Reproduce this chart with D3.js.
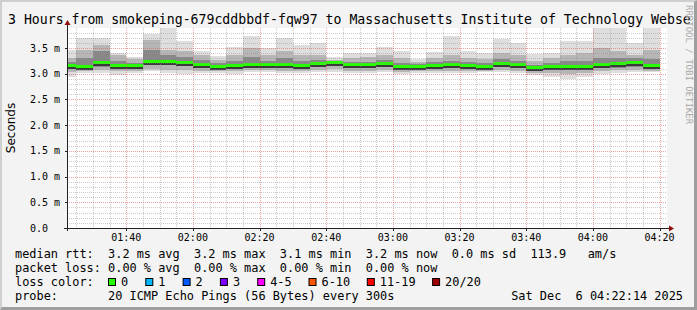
<!DOCTYPE html>
<html>
<head>
<meta charset="utf-8" />
<title>smokeping 3 hours</title>
<script src="https://d3js.org/d3.v7.min.js"></script>
<style>
  body { margin: 0; background: #f3f3f3; }
  svg text { font-family: "DejaVu Sans Mono", monospace; fill: #000; }
</style>
</head>
<body>
<svg id="viz"></svg>
<script>
// ---- data (rtt in ms, each step ends at the given time, 300s steps) ----
var stepEnd = ["01:25","01:30","01:35","01:40","01:45","01:50","01:55","02:00","02:05","02:10","02:15","02:20",
               "02:25","02:30","02:35","02:40","02:45","02:50","02:55","03:00","03:05","03:10","03:15","03:20",
               "03:25","03:30","03:35","03:40","03:45","03:50","03:55","04:00","04:05","04:10","04:15","04:20"];
var rttMedian   = [3.15,3.14,3.20,3.15,3.15,3.23,3.22,3.21,3.17,3.13,3.15,3.17,3.17,3.16,3.15,3.19,3.20,3.16,
                   3.16,3.19,3.13,3.13,3.15,3.16,3.15,3.14,3.19,3.16,3.11,3.13,3.13,3.14,3.17,3.18,3.20,3.15];
var rttMax      = [3.47,3.69,3.69,3.40,3.32,3.77,3.95,3.64,3.45,3.34,3.51,3.73,3.50,3.69,3.56,3.59,3.32,3.40,
                   3.40,3.51,3.44,3.29,3.43,3.73,3.45,3.40,3.68,3.60,3.38,3.41,3.64,3.64,3.95,3.92,3.59,3.95];
var rttHigh     = [3.31,3.47,3.56,3.37,3.29,3.66,3.47,3.44,3.37,3.27,3.37,3.50,3.37,3.45,3.37,3.37,3.27,3.31,
                   3.32,3.37,3.31,3.22,3.31,3.37,3.31,3.29,3.40,3.37,3.25,3.31,3.37,3.40,3.50,3.44,3.37,3.47];
var rttCoreHigh = [3.22,3.31,3.44,3.25,3.21,3.47,3.37,3.33,3.27,3.20,3.25,3.33,3.25,3.30,3.24,3.27,3.24,3.23,
                   3.23,3.26,3.21,3.18,3.22,3.25,3.22,3.20,3.29,3.25,3.17,3.21,3.24,3.25,3.30,3.30,3.30,3.28];
var rttCoreLow  = [3.10,3.09,3.14,3.10,3.10,3.17,3.16,3.15,3.12,3.09,3.10,3.12,3.12,3.11,3.10,3.14,3.15,3.11,
                   3.11,3.13,3.08,3.09,3.10,3.11,3.10,3.09,3.13,3.11,3.06,3.08,3.08,3.09,3.12,3.12,3.14,3.10];
var rttLow      = [3.03,3.05,3.07,3.05,3.06,3.10,3.08,3.07,3.06,3.05,3.05,3.07,3.07,3.06,3.06,3.08,3.09,3.06,
                   3.06,3.07,3.03,3.05,3.05,3.06,3.06,3.06,3.07,3.06,3.02,3.01,2.99,3.02,3.06,3.07,3.08,3.06];
var rttMin      = [2.93,3.01,3.01,2.98,3.02,3.05,3.02,3.00,3.02,3.02,3.00,3.03,3.03,3.02,3.02,3.04,3.04,3.01,
                   3.02,3.03,2.99,3.02,3.01,3.02,3.02,3.03,3.03,3.02,2.98,2.94,2.89,2.94,3.00,3.02,3.03,3.03];
var lossCount   = [0,0,0,0,0,0,0,0,0,0,0,0,0,0,0,0,0,0,0,0,0,0,0,0,0,0,0,0,0,0,0,0,0,0,0,0];

var xTickLabels = ["01:40","02:00","02:20","02:40","03:00","03:20","03:40","04:00","04:20"];
var yTickValues = [0, 0.5, 1.0, 1.5, 2.0, 2.5, 3.0, 3.5];
var yTickLabels = ["0.0","0.5 m","1.0 m","1.5 m","2.0 m","2.5 m","3.0 m","3.5 m"];

var lossLabels = ["0","1","2","3","4-5","6-10","11-19","20/20"];
var lossColors = ["#26ff00","#00b8ff","#0059ff","#7e00ff","#ff00ff","#ff5500","#ff0000","#a10000"];
var lossUpper  = [0,1,2,3,5,10,19,20];

var titleText = "3 Hours from smokeping-679cddbbdf-fqw97 to Massachusetts Institute of Technology Webse";
var statRtt   = "median rtt:  3.2 ms avg  3.2 ms max  3.1 ms min  3.2 ms now  0.0 ms sd  113.9   am/s";
var statLoss  = "packet loss: 0.00 % avg  0.00 % max  0.00 % min  0.00 % now";
var probeText = "probe:       20 ICMP Echo Pings (56 Bytes) every 300s";
var dateText  = "Sat Dec  6 04:22:14 2025";

// ---- layout ----
var W = 697, H = 310;
var pLeft = 67, pRight = 667, pTop = 28, pBottom = 228;
var parse = d3.timeParse("%Y-%m-%d %H:%M:%S");
var day = "2025-12-06 ";
var t0 = parse(day + "01:22:14"), t1 = parse(day + "04:22:14");

var x = d3.scaleTime().domain([t0, t1]).range([pLeft, pRight]);
var y = d3.scaleLinear().domain([0, 3.5 * 200 / 180]).range([pBottom, pTop]);

var svg = d3.select("#viz").attr("width", W).attr("height", H);

// background and shaded frame
svg.append("rect").attr("width", W).attr("height", H).attr("fill", "#f3f3f3");
svg.append("path").attr("d", "M0,0H697L695,2H2V308L0,310Z").attr("fill", "#cfcfcf");
svg.append("path").attr("d", "M697,0V310H0L2,307H694V2Z").attr("fill", "#9e9e9e");

// canvas
svg.append("rect").attr("x", pLeft).attr("y", pTop).attr("width", pRight - pLeft).attr("height", pBottom - pTop)
  .attr("fill", "#fff");
svg.append("clipPath").attr("id", "clip").append("rect")
  .attr("x", pLeft).attr("y", pTop).attr("width", pRight - pLeft).attr("height", pBottom - pTop);

// smoke bars
var steps = stepEnd.map(function(s, i) {
  var end = parse(day + s + ":00");
  var start = d3.timeMinute.offset(end, -5);
  return { i: i, x0: Math.max(x(start), pLeft), x1: x(end) };
});

var plot = svg.append("g").attr("clip-path", "url(#clip)").attr("shape-rendering", "crispEdges");

function band(lo, hi, color) {
  plot.append("g").selectAll("rect").data(steps).enter().append("rect")
    .attr("x", function(d) { return d.x0; })
    .attr("width", function(d) { return d.x1 - d.x0; })
    .attr("y", function(d) { return y(hi[d.i]); })
    .attr("height", function(d) { return y(lo[d.i]) - y(hi[d.i]); })
    .attr("fill", color);
}
band(rttMin, rttMax, "#dedede");
band(rttLow, rttHigh, "#b6b6b6");
band(rttCoreLow, rttCoreHigh, "#888888");

function lossColor(n) {
  for (var k = 0; k < lossUpper.length; k++) if (n <= lossUpper[k]) return lossColors[k];
  return lossColors[lossColors.length - 1];
}

// median: dark line + loss coloured band
plot.append("g").selectAll("rect").data(steps).enter().append("rect")
  .attr("x", function(d) { return d.x0; })
  .attr("width", function(d) { return d.x1 - d.x0; })
  .attr("y", function(d) { return Math.round(y(rttMedian[d.i])) + 1; })
  .attr("height", 1.5)
  .attr("fill", "#3a3a3a");
plot.append("g").selectAll("rect").data(steps).enter().append("rect")
  .attr("x", function(d) { return d.x0; })
  .attr("width", function(d) { return d.x1 - d.x0; })
  .attr("y", function(d) { return Math.round(y(rttMedian[d.i])) - 2; })
  .attr("height", 3)
  .attr("fill", function(d) { return lossColor(lossCount[d.i]); });

// grid (drawn over the smoke, like rrdtool)
var grid = svg.append("g").attr("shape-rendering", "crispEdges");
var minorY = d3.range(1, 39).map(function(k) { return k / 10; }).filter(function(v) { return Math.round(v * 10) % 5 !== 0; });
var majorY = yTickValues.filter(function(v) { return v > 0; });
var minorX = d3.timeMinute.every(5).range(t0, t1).filter(function(t) { return t.getMinutes() % 20 !== 0; });
var majorX = d3.timeMinute.every(20).range(t0, t1);

grid.selectAll(".gy").data(minorY).enter().append("line")
  .attr("x1", pLeft).attr("x2", pRight)
  .attr("y1", function(v) { return Math.round(y(v)) + 0.5; }).attr("y2", function(v) { return Math.round(y(v)) + 0.5; })
  .attr("stroke", "rgba(140,140,140,0.45)").attr("stroke-dasharray", "1,1");
grid.selectAll(".gx").data(minorX).enter().append("line")
  .attr("y1", pTop).attr("y2", pBottom)
  .attr("x1", function(t) { return Math.round(x(t)) + 0.5; }).attr("x2", function(t) { return Math.round(x(t)) + 0.5; })
  .attr("stroke", "rgba(140,140,140,0.45)").attr("stroke-dasharray", "1,1");
grid.selectAll(".my").data(majorY).enter().append("line")
  .attr("x1", pLeft).attr("x2", pRight)
  .attr("y1", function(v) { return Math.round(y(v)) + 0.5; }).attr("y2", function(v) { return Math.round(y(v)) + 0.5; })
  .attr("stroke", "rgba(222,70,70,0.5)").attr("stroke-dasharray", "1,1");
grid.selectAll(".mx").data(majorX).enter().append("line")
  .attr("y1", pTop).attr("y2", pBottom)
  .attr("x1", function(t) { return Math.round(x(t)) + 0.5; }).attr("x2", function(t) { return Math.round(x(t)) + 0.5; })
  .attr("stroke", "rgba(222,70,70,0.5)").attr("stroke-dasharray", "1,1");

// axes
grid.append("line").attr("x1", pLeft - 3).attr("x2", pRight + 2).attr("y1", pBottom + 0.5).attr("y2", pBottom + 0.5)
  .attr("stroke", "#222");
grid.append("line").attr("x1", pLeft + 0.5).attr("x2", pLeft + 0.5).attr("y1", pBottom + 3).attr("y2", pTop - 4)
  .attr("stroke", "#222");
svg.append("path").attr("d", "M" + (pRight + 2) + "," + (pBottom - 2.5) + "L" + (pRight + 7) + "," + (pBottom + 0.5) + "L" + (pRight + 2) + "," + (pBottom + 3.5) + "Z")
  .attr("fill", "#8b1010");
svg.append("path").attr("d", "M" + (pLeft - 2.5) + "," + (pTop - 3) + "L" + (pLeft + 0.5) + "," + (pTop - 8) + "L" + (pLeft + 3.5) + "," + (pTop - 3) + "Z")
  .attr("fill", "#8b1010");
grid.selectAll(".tx").data(majorX).enter().append("line")
  .attr("x1", function(t) { return Math.round(x(t)) + 0.5; }).attr("x2", function(t) { return Math.round(x(t)) + 0.5; })
  .attr("y1", pBottom).attr("y2", pBottom + 3).attr("stroke", "#222");
grid.selectAll(".ty").data(majorY).enter().append("line")
  .attr("x1", pLeft - 2).attr("x2", pLeft)
  .attr("y1", function(v) { return Math.round(y(v)) + 0.5; }).attr("y2", function(v) { return Math.round(y(v)) + 0.5; })
  .attr("stroke", "#222");

// tick labels
svg.append("g").selectAll("text").data(xTickLabels).enter().append("text")
  .attr("x", function(s) { return x(parse(day + s + ":00")); })
  .attr("y", 241)
  .attr("text-anchor", "middle")
  .attr("font-size", "10px")
  .text(function(s) { return s; });
svg.append("g").selectAll("text").data(yTickValues).enter().append("text")
  .attr("x", 30)
  .attr("y", function(v) { return y(v) + 3.5; })
  .attr("font-size", "10px")
  .text(function(v, i) { return yTickLabels[i]; });

// title, axis label, watermark
svg.append("text").attr("x", 8).attr("y", 24).attr("font-size", "13.2px").text(titleText);
svg.append("text").attr("transform", "translate(15,128) rotate(-90)")
  .attr("text-anchor", "middle").attr("font-size", "12px")
  .style("font-family", "'DejaVu Sans', sans-serif").text("Seconds");
svg.append("text").attr("transform", "translate(685.5,5) rotate(90)")
  .attr("font-size", "9px").style("fill", "#aaaaaa").text("RRDTOOL / TOBI OETIKER");

// legend
var lg = svg.append("g").attr("font-size", "11.9px");
function legendText(tx, ty, s, anchor) {
  return lg.append("text").attr("x", tx).attr("y", ty)
    .attr("xml:space", "preserve")
    .attr("text-anchor", anchor || "start")
    .text(s);
}
legendText(15, 257.5, statRtt);
legendText(15, 271.5, statLoss);
legendText(15, 285.5, "loss color:");
legendText(15, 299.5, probeText);
legendText(683, 299.5, dateText, "end");

var bx = 108;
lossLabels.forEach(function(lab, k) {
  lg.append("rect").attr("x", bx + 0.5).attr("y", 278.5).attr("width", 7).attr("height", 7)
    .attr("fill", lossColors[k]).attr("stroke", "#000");
  legendText(bx + 13, 285.5, lab);
  bx += 30.3 + 7 * lab.length;
});
</script>
</body>
</html>
